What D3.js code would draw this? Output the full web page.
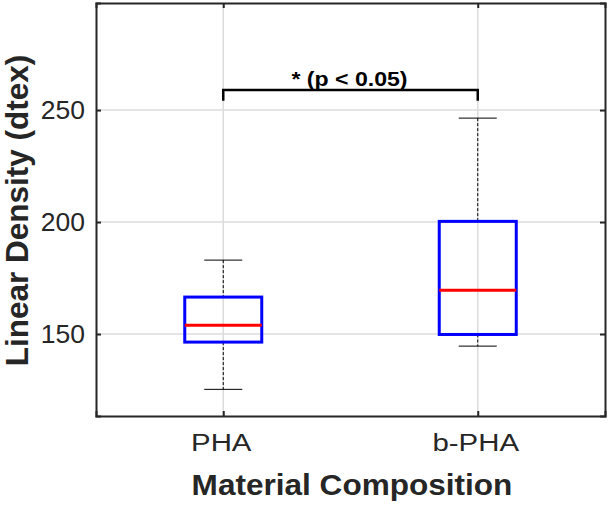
<!DOCTYPE html>
<html>
<head>
<meta charset="utf-8">
<script src="https://cdn.jsdelivr.net/npm/d3@7"></script>
<style>
  body { margin: 0; background: #fff; }
  text { font-family: "Liberation Sans", Arial, sans-serif; fill: #262626; }
</style>
</head>
<body>
<script>
// chart size and plot box
const W = 610, H = 506;
const M = { left: 96, right: 5, top: 3, bottom: 90 };
const innerW = W - M.left - M.right,
      innerH = H - M.top - M.bottom;

// data
const categories = ['PHA', 'b-PHA'];
const whiskerLow = [125.3, 144.6];
const q1 = [146.4, 149.8];
const median = [153.9, 169.6];
const q3 = [166.5, 200.3];
const whiskerHigh = [183.0, 246.4];
const yTicks = [150, 200, 250];
const sigLabel = '* (p < 0.05)';
const sigLevel = 258.9, sigDrop = 254.2;

const svg = d3.select('body').append('svg')
    .attr('width', W)
    .attr('height', H);

const canvas = svg.append('g')
    .attr('transform', `translate(${M.left},${M.top})`);

const x = d3.scalePoint()
    .domain(categories)
    .range([0, innerW])
    .padding(0.5);

const y = d3.scaleLinear()
    .domain([113.4, 297.8])
    .range([innerH, 0]);

// text in the source is a bit wider than the font, so stretch horizontally
const addText = (g, tx, ty, str, size, sx, opts = {}) => {
    const t = g.append('text')
        .attr('transform', `translate(${tx},${ty}) ${opts.rotate ? 'rotate(-90)' : ''} scale(${sx},1)`)
        .attr('text-anchor', opts.anchor || 'middle')
        .attr('font-size', size)
        .text(str);
    if (opts.bold) t.attr('font-weight', 'bold');
    if (opts.dy) t.attr('dy', opts.dy);
    return t;
};

// grid
const grid = canvas.append('g').attr('class', 'grid');
grid.selectAll('.gy').data(yTicks).enter().append('line')
    .attr('x1', 0).attr('x2', innerW)
    .attr('y1', d => y(d)).attr('y2', d => y(d))
    .attr('stroke', '#dcdcdc').attr('stroke-width', 1.5);
grid.selectAll('.gx').data(categories).enter().append('line')
    .attr('x1', d => x(d)).attr('x2', d => x(d))
    .attr('y1', 0).attr('y2', innerH)
    .attr('stroke', '#dcdcdc').attr('stroke-width', 1.5);

// axes (ticks inward, box on all sides)
canvas.append('g').call(d3.axisLeft(y).tickValues(yTicks).tickSize(-5).tickFormat(''));
canvas.append('g').attr('transform', `translate(0,${innerH})`)
    .call(d3.axisBottom(x).tickSize(-5).tickFormat(''));
canvas.append('g').attr('transform', `translate(${innerW},0)`)
    .call(d3.axisRight(y).tickValues(yTicks).tickSize(-5).tickFormat(''));
canvas.append('g')
    .call(d3.axisTop(x).tickSize(-5).tickFormat(''));

canvas.selectAll('.domain').attr('stroke', '#262626').attr('stroke-width', 2);
canvas.selectAll('.tick line').attr('stroke', '#262626').attr('stroke-width', 2);

// tick labels
yTicks.forEach(v => addText(canvas, -11, y(v), String(v), 25, 1.06, { anchor: 'end', dy: '0.35em' }));
categories.forEach(c => addText(canvas, x(c) - 2, innerH + 35, c, 24.5, 1.2));

// boxes
const boxW = 77, capW = 38;
const boxes = canvas.selectAll('.box').data(categories).enter().append('g')
    .attr('transform', d => `translate(${x(d)},0)`);

boxes.append('line')
    .attr('y1', (d, i) => y(whiskerHigh[i])).attr('y2', (d, i) => y(q3[i]))
    .attr('stroke', '#000').attr('stroke-width', 1).attr('stroke-dasharray', '3,2');
boxes.append('line')
    .attr('y1', (d, i) => y(q1[i])).attr('y2', (d, i) => y(whiskerLow[i]))
    .attr('stroke', '#000').attr('stroke-width', 1).attr('stroke-dasharray', '3,2');
boxes.append('line')
    .attr('x1', -capW / 2).attr('x2', capW / 2)
    .attr('y1', (d, i) => y(whiskerHigh[i])).attr('y2', (d, i) => y(whiskerHigh[i]))
    .attr('stroke', '#000').attr('stroke-width', 1);
boxes.append('line')
    .attr('x1', -capW / 2).attr('x2', capW / 2)
    .attr('y1', (d, i) => y(whiskerLow[i])).attr('y2', (d, i) => y(whiskerLow[i]))
    .attr('stroke', '#000').attr('stroke-width', 1);
boxes.append('rect')
    .attr('x', -boxW / 2).attr('width', boxW)
    .attr('y', (d, i) => y(q3[i]))
    .attr('height', (d, i) => y(q1[i]) - y(q3[i]))
    .attr('fill', 'none').attr('stroke', '#0000ff').attr('stroke-width', 3);
boxes.append('line')
    .attr('x1', -boxW / 2).attr('x2', boxW / 2)
    .attr('y1', (d, i) => y(median[i])).attr('y2', (d, i) => y(median[i]))
    .attr('stroke', '#ff0000').attr('stroke-width', 3);

// significance bracket
const x0 = x(categories[0]), x1 = x(categories[1]);
canvas.append('path')
    .attr('d', `M${x0},${y(sigDrop)}V${y(sigLevel)}H${x1}V${y(sigDrop)}`)
    .attr('fill', 'none').attr('stroke', '#000').attr('stroke-width', 2.5);
addText(canvas, (x0 + x1) / 2 - 1, y(sigLevel) - 4, sigLabel, 21, 1.1, { bold: true })
    .style('fill', '#000');

// axis labels
addText(canvas, 352 - M.left, 495 - M.top, 'Material Composition', 29.5, 1.07, { bold: true });
addText(canvas, 28 - M.left, 210.5 - M.top, 'Linear Density (dtex)', 31.5, 1, { bold: true, rotate: true });
</script>
</body>
</html>
